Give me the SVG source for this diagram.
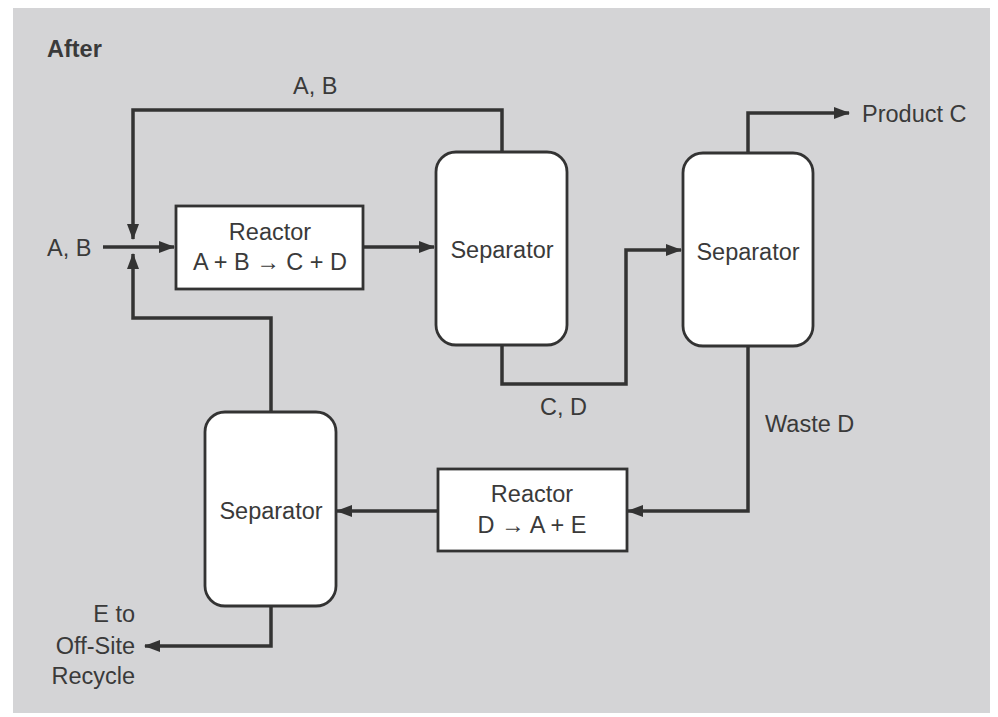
<svg xmlns="http://www.w3.org/2000/svg" width="998" height="717" viewBox="0 0 998 717">
<defs>
<marker id="ah" viewBox="0 0 16 12" refX="15" refY="6" markerWidth="16" markerHeight="12" markerUnits="userSpaceOnUse" orient="auto">
<path d="M0,0 L16,6 L0,12 Z" fill="#333"/>
</marker>
<style>
.t{font-family:"Liberation Sans",Arial,sans-serif;font-size:23.5px;fill:#3a3a3a}
.b{font-weight:bold}
.box{fill:#fff;stroke:#333;stroke-width:2.8}
.c{fill:none;stroke:#333;stroke-width:3.5;marker-end:url(#ah)}
</style>
</defs>
<rect x="0" y="0" width="998" height="717" fill="#fff"/>
<rect x="13" y="8" width="977" height="705" fill="#d4d4d6"/>
<text class="t b" x="47" y="57">After</text>

<g id="connectors">
<path class="c" d="M103,247 H174"/>
<path class="c" d="M502,152 V110 H133 V239"/>
<path class="c" d="M271,412 V318 H133 V254"/>
<path class="c" d="M363,247 H434"/>
<path class="c" d="M502,345 V384 H626 V250 H681"/>
<path class="c" d="M748,153 V113 H849"/>
<path class="c" d="M748,346 V511 H628"/>
<path class="c" d="M438,511 H337"/>
<path class="c" d="M271,606 V646 H145"/>
</g>

<g id="reactor1">
<rect class="box" x="176" y="206" width="187" height="83"/>
<text class="t" x="270" y="240" text-anchor="middle">Reactor</text>
<text class="t" x="270" y="270" text-anchor="middle">A + B → C + D</text>
</g>
<g id="separator1">
<rect class="box" x="436" y="152" width="131" height="193" rx="20"/>
<text class="t" x="502" y="258" text-anchor="middle">Separator</text>
</g>
<g id="separator2">
<rect class="box" x="683" y="153" width="130" height="193" rx="20"/>
<text class="t" x="748" y="260" text-anchor="middle">Separator</text>
</g>
<g id="reactor2">
<rect class="box" x="438" y="469" width="189" height="82"/>
<text class="t" x="532" y="502" text-anchor="middle">Reactor</text>
<text class="t" x="532" y="533" text-anchor="middle">D → A + E</text>
</g>
<g id="separator3">
<rect class="box" x="205" y="412" width="131" height="194" rx="20"/>
<text class="t" x="271" y="519" text-anchor="middle">Separator</text>
</g>

<g id="labels">
<text class="t" x="47" y="256">A, B</text>
<text class="t" x="293" y="94">A, B</text>
<text class="t" x="540" y="415">C, D</text>
<text class="t" x="862" y="122">Product C</text>
<text class="t" x="765" y="432">Waste D</text>
<text class="t" x="135" y="622" text-anchor="end">E to</text>
<text class="t" x="135" y="654" text-anchor="end">Off-Site</text>
<text class="t" x="135" y="684" text-anchor="end">Recycle</text>
</g>
</svg>
